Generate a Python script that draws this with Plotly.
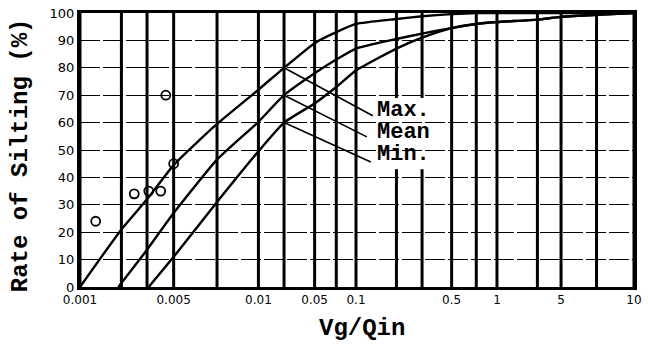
import numpy as np
import plotly.graph_objects as go

# ---- data ----
# Vg/Qin values of the vertical grid lines (hand-drawn, non-uniform log scale)
GRID_VALUES = [0.001, 0.002, 0.003, 0.005, 0.007, 0.01, 0.02, 0.05, 0.07, 0.1,
               0.2, 0.3, 0.5, 0.7, 1, 2, 5, 7, 10]
TICK_VALUES = [0.001, 0.005, 0.01, 0.05, 0.1, 0.5, 1, 5, 10]
TICK_LABELS = ["0.001", "0.005", "0.01", "0.05", "0.1", "0.5", "1", "5", "10"]
Y_TICKS = [0, 10, 20, 30, 40, 50, 60, 70, 80, 90, 100]

MAX_X = [0.001, 0.002, 0.003, 0.005, 0.007, 0.01, 0.02, 0.05, 0.07, 0.1, 0.2, 0.3, 0.5, 0.7, 10]
MAX_Y = [0, 21, 32, 44.5, 59.5, 72, 80, 89, 93, 96, 97.8, 98.8, 99.6, 100, 100]

MEAN_X = [0.0019, 0.003, 0.005, 0.007, 0.01, 0.02, 0.05, 0.07, 0.1, 0.2, 0.3, 0.5, 0.7, 1, 2, 5, 7, 10]
MEAN_Y = [0, 13.6, 27, 46.5, 60.3, 70, 78, 83, 87, 90.5, 92.5, 94.5, 96, 96.7, 97.6, 98.6, 99.3, 100]

MIN_X = [0.0031, 0.005, 0.007, 0.01, 0.02, 0.05, 0.07, 0.1, 0.2, 0.3, 0.5, 0.7, 1, 2, 5, 7, 10]
MIN_Y = [0, 11, 31, 49.5, 60, 67, 73, 79, 87, 91, 94.5, 96, 96.7, 97.6, 98.6, 99.3, 100]

OBS_X = [0.0013, 0.00245, 0.0031, 0.0039, 0.0043, 0.005]
OBS_Y = [24, 34, 35, 35, 70, 45]

CURVE_NAMES = ["Max.", "Mean", "Min."]
LABEL_AT_X = 0.02  # leader lines start on the curves at this Vg/Qin

# ---- layout positions of the grid lines on the drawn scale ----
GRID_POS = [0, 42, 68, 95, 139, 181, 207, 238, 260, 280,
            321, 347, 377, 402, 423, 464, 488, 524, 562]
LABEL_GAP = (43, 69)        # y-range left open behind the curve labels
GAP_LINES = [0.2, 0.3]      # grid lines interrupted by the label block


def xpos(v):
    return np.interp(np.log10(np.asarray(v, dtype=float)), np.log10(GRID_VALUES), GRID_POS)


fig = go.Figure()

# heavy vertical grid lines
for g in GRID_VALUES:
    xg = float(xpos(g))
    segs = [(0, 100)] if g not in GAP_LINES else [(0, LABEL_GAP[0]), (LABEL_GAP[1], 100)]
    for y0, y1 in segs:
        fig.add_shape(type="line", xref="x", yref="y", x0=xg, x1=xg, y0=y0, y1=y1,
                      line=dict(color="black", width=3), layer="below")

line_style = dict(color="black", width=2.4, shape="spline", smoothing=0.5)
for xs, ys in [(MAX_X, MAX_Y), (MEAN_X, MEAN_Y), (MIN_X, MIN_Y)]:
    fig.add_trace(go.Scatter(x=xpos(xs), y=ys, mode="lines", line=line_style,
                             showlegend=False, hoverinfo="skip"))

fig.add_trace(go.Scatter(x=xpos(OBS_X), y=OBS_Y, mode="markers",
                         marker=dict(symbol="circle-open", size=9, color="black",
                                     line=dict(width=1.8, color="black")),
                         showlegend=False, hoverinfo="skip"))

# leader lines + labels
label_pos = [(297, 62.5, 300, 64.5), (291, 54.8, 300, 56.5), (295, 45.6, 300, 48.3)]
for (xs, ys), name, (lx, ly, tx, ty) in zip([(MAX_X, MAX_Y), (MEAN_X, MEAN_Y), (MIN_X, MIN_Y)],
                                           CURVE_NAMES, label_pos):
    y0 = float(np.interp(xpos(LABEL_AT_X), xpos(xs), ys))
    fig.add_shape(type="line", x0=float(xpos(LABEL_AT_X)), y0=y0, x1=lx, y1=ly,
                  line=dict(color="black", width=1.6))
    fig.add_annotation(x=tx, y=ty, text="<b>" + name + "</b>", showarrow=False, xanchor="left",
                       yanchor="middle", borderpad=0,
                       font=dict(family="Liberation Mono", size=22, color="black"))

tick_text = {v: t for v, t in zip(TICK_VALUES, TICK_LABELS)}
fig.update_xaxes(range=[0, 562], tickvals=list(xpos(GRID_VALUES)),
                 ticktext=[tick_text.get(v, "") for v in GRID_VALUES],
                 showgrid=False,
                 showline=True, linecolor="black", linewidth=3, mirror=True,
                 zeroline=False, ticks="",
                 tickfont=dict(family="DejaVu Sans", size=12, color="black"))
fig.update_yaxes(range=[0, 100], tickvals=Y_TICKS, showgrid=True,
                 gridcolor="black", gridwidth=1.3, griddash="20px,3px",
                 showline=True, linecolor="black", linewidth=3, mirror=True,
                 zeroline=False, ticks="",
                 tickfont=dict(family="DejaVu Sans", size=13, color="black"))

fig.add_annotation(xref="paper", yref="paper", x=0.509, y=-0.15, text="<b>Vg/Qin</b>",
                   xanchor="center", yanchor="middle",
                   showarrow=False, font=dict(family="Liberation Mono", size=24, color="black"))
fig.add_annotation(xref="paper", yref="paper", x=-0.107, y=0.48, text="<b>Rate of Silting (%)</b>",
                   xanchor="center", yanchor="middle",
                   textangle=-90, showarrow=False,
                   font=dict(family="Liberation Mono", size=24, color="black"))

fig.update_layout(width=648, height=352, margin=dict(l=80, r=6, t=13, b=65),
                  plot_bgcolor="white", paper_bgcolor="white", hovermode=False)
fig.write_html("out.html", config={"displayModeBar": False},
               post_script="document.body.style.margin='0';document.body.style.overflow='hidden';")
